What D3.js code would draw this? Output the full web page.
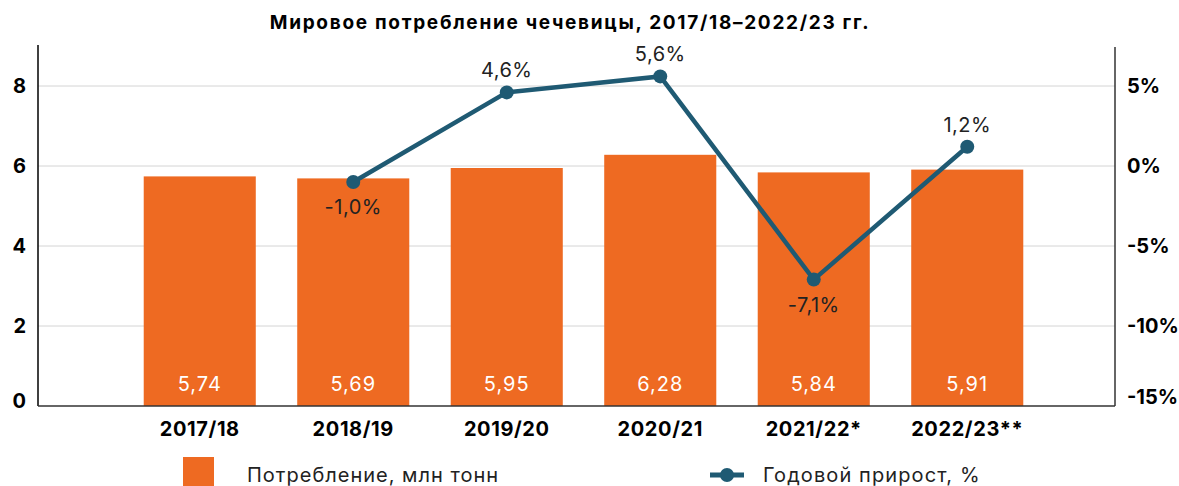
<!DOCTYPE html>
<html>
<head>
<meta charset="utf-8">
<title>Мировое потребление чечевицы</title>
<script src="https://d3js.org/d3.v7.min.js"></script>
<style>
  body { margin: 0; background: #fff; }
  text { font-family: "Inter", "Noto Sans", sans-serif; }
</style>
</head>
<body>
<script>
var seasons = ["2017/18", "2018/19", "2019/20", "2020/21", "2021/22*", "2022/23**"];
var consumption = [5.74, 5.69, 5.95, 6.28, 5.84, 5.91];
var growth = [null, -1.0, 4.6, 5.6, -7.1, 1.2];
var leftTicks = [0, 2, 4, 6, 8];
var rightTicks = [-15, -10, -5, 0, 5];

var W = 1179, H = 486;
var orange = "#ee6a22", teal = "#1f5a73";
var fmt = function(v, d) { return v.toFixed(d).replace(".", ","); };

var svg = d3.select("body").append("svg").attr("width", W).attr("height", H);

var x = d3.scaleBand().domain(seasons).range([123, 1044]).paddingInner(0.27).paddingOuter(0.135);
var y = d3.scaleLinear().domain([0, 9]).range([406, 46]);
var y2 = d3.scaleLinear().domain([-15, 7.5]).range([406, 46]);

svg.append("text").attr("x", 570).attr("y", 29).attr("text-anchor", "middle")
  .style("font-size", "19px").style("font-weight", "bold").style("letter-spacing", "1.7px")
  .text("Мировое потребление чечевицы, 2017/18–2022/23 гг.");

// gridlines
svg.append("g").selectAll("line").data(leftTicks.filter(function(d) { return d > 0; })).enter().append("line")
  .attr("x1", 38).attr("x2", 1115).attr("y1", function(d) { return y(d); }).attr("y2", function(d) { return y(d); })
  .attr("stroke", "#d4d4d4").attr("stroke-width", 1);

// bars
svg.append("g").selectAll("rect").data(consumption).enter().append("rect")
  .attr("x", function(d, i) { return x(seasons[i]); })
  .attr("width", x.bandwidth())
  .attr("y", function(d) { return y(d); })
  .attr("height", function(d) { return y(0) - y(d); })
  .attr("fill", orange);

svg.append("g").selectAll("text").data(consumption).enter().append("text")
  .attr("x", function(d, i) { return x(seasons[i]) + x.bandwidth() / 2; })
  .attr("y", 391).attr("text-anchor", "middle").style("letter-spacing", "1px")
  .attr("fill", "#fff").style("font-size", "20px").text(function(d) { return fmt(d, 2); });

// axes
var gl = svg.append("g").attr("transform", "translate(38,0)")
  .call(d3.axisLeft(y).tickValues(leftTicks).tickSize(0).tickPadding(12).tickFormat(function(d) { return d; }));
gl.select(".domain").attr("d", "M0,45V406").attr("stroke", "#000").attr("stroke-width", 1.5);
gl.selectAll("text").style("font-size", "20px").style("font-weight", "bold").attr("fill", "#000")
  .attr("dy", function(d) { return d === 0 ? "0.05em" : "0.32em"; });

var gr = svg.append("g").attr("transform", "translate(1115,0)")
  .call(d3.axisRight(y2).tickValues(rightTicks).tickSize(0).tickPadding(12).tickFormat(function(d) { return d + "%"; }));
gr.select(".domain").attr("d", "M0,47V406").attr("stroke", "#333").attr("stroke-width", 1.5);
gr.selectAll("text").style("font-size", "20px").style("font-weight", "bold").attr("fill", "#000")
  .attr("dy", function(d) { return d === -15 ? "-0.12em" : "0.32em"; });

var gb = svg.append("g").attr("transform", "translate(0,406)")
  .call(d3.axisBottom(x).tickSize(0).tickPadding(16));
gb.select(".domain").attr("d", "M38,0H1115").attr("stroke", "#333").attr("stroke-width", 1.5);
gb.selectAll("text").style("font-size", "20px").style("font-weight", "bold").style("letter-spacing", "0.6px").attr("fill", "#000");

// growth line
var pts = growth.map(function(g, i) { return { s: seasons[i], g: g }; }).filter(function(d) { return d.g !== null; });
var line = d3.line().x(function(d) { return x(d.s) + x.bandwidth() / 2; }).y(function(d) { return y2(d.g); });
svg.append("path").datum(pts).attr("d", line).attr("fill", "none").attr("stroke", teal).attr("stroke-width", 4.5);
svg.append("g").selectAll("circle").data(pts).enter().append("circle")
  .attr("cx", function(d) { return x(d.s) + x.bandwidth() / 2; })
  .attr("cy", function(d) { return y2(d.g); })
  .attr("r", 7).attr("fill", teal);
svg.append("g").selectAll("text").data(pts).enter().append("text")
  .attr("x", function(d) { return x(d.s) + x.bandwidth() / 2; })
  .attr("y", function(d) { return y2(d.g) + (d.g < 0 ? 32 : -15); })
  .attr("text-anchor", "middle").style("font-size", "20px").style("letter-spacing", "0.5px").attr("fill", "#222")
  .text(function(d) { return fmt(d.g, 1) + "%"; });

// legend
var lg = svg.append("g");
lg.append("rect").attr("x", 183).attr("y", 457).attr("width", 31).attr("height", 29).attr("fill", orange);
lg.append("text").attr("x", 247).attr("y", 482).style("font-size", "20px").style("letter-spacing", "1px").attr("fill", "#222").text("Потребление, млн тонн");
lg.append("line").attr("x1", 710).attr("x2", 744).attr("y1", 475).attr("y2", 475).attr("stroke", teal).attr("stroke-width", 5);
lg.append("circle").attr("cx", 727).attr("cy", 475).attr("r", 7).attr("fill", teal);
lg.append("text").attr("x", 763).attr("y", 482).style("font-size", "20px").style("letter-spacing", "1.1px").attr("fill", "#222").text("Годовой прирост, %");
</script>
</body>
</html>
